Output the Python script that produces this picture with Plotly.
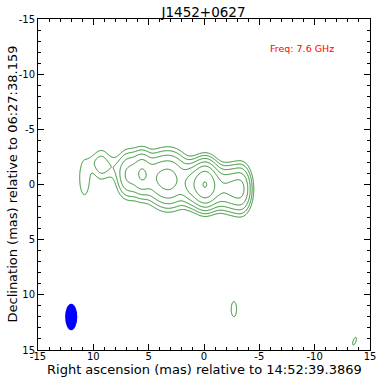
import numpy as np
import plotly.graph_objects as go

# Source model components: RA offset (mas), Dec offset (mas), peak, sigma_x, sigma_y (mas), correlation
comp_x = [-0.1, 1.1, -1.4, -2.6, -3.4, 3.2, 4.5, 5.6, 6.8, 9.3, 8.3, 10.8, 10.05, -2.7, -13.6]
comp_y = [0.0, 0.0, 0.3, 0.4, 0.4, -0.45, -0.7, -0.95, -0.9, -1.8, -1.6, -0.6, -2.0, 11.3, 14.2]
comp_peak = [62.0, 17.0, 13.0, 15.0, 14.0, 21.0, 6.0, 15.0, 9.0, 2.7, 1.3, 1.8, 0.7, 1.6, 1.6]
comp_sx = [0.6, 0.6, 0.64, 0.59, 0.47, 0.9, 0.6, 0.5, 0.6, 0.5, 0.5, 0.4, 0.35, 0.25, 0.18]
comp_sy = [1.0, 0.95, 0.95, 1.0, 1.05, 1.2, 1.05, 1.05, 1.1, 0.9, 0.7, 1.4, 0.5, 0.7, 0.36]
comp_rho = [0, 0, 0, 0, 0, 0, 0, 0, 0, 0, 0, 0, 0, 0, 0.6]

contour_levels = [1, 2, 4, 8, 16, 32, 64]

beam_x, beam_y = 12.0, 12.0
beam_w, beam_h = 1.1, 2.4

title = "J1452+0627"
freq_label = "Freq: 7.6 GHz"
x_title = "Right ascension (mas) relative to 14:52:39.3869"
y_title = "Declination (mas) relative to 06:27:38.159"
x_tickvals = [15, 10, 5, 0, -5, -10, -15]
x_ticktext = ["-15", "10", "5", "0", "-5", "-10", "15"]
y_tickvals = [-15, -10, -5, 0, 5, 10, 15]
y_ticktext = ["-15", "-10", "-5", "0", "5", "10", "15"]

xs = np.linspace(-15, 15, 451)
ys = np.linspace(-15, 15, 451)
X, Y = np.meshgrid(xs, ys)
img = np.zeros_like(X)
for cx, cy, p, sx, sy, r in zip(comp_x, comp_y, comp_peak, comp_sx, comp_sy, comp_rho):
    u = (X - cx) / sx
    v = (Y - cy) / sy
    img += p * np.exp(-(u ** 2 - 2 * r * u * v + v ** 2) / (2 * (1 - r ** 2)))
z = np.log2(img + 1e-6)
lv = np.log2(contour_levels)

green = "#2e8f2e"
fig = go.Figure()
fig.add_trace(go.Contour(
    x=xs, y=ys, z=z,
    contours=dict(start=lv[0], end=lv[-1], size=lv[1] - lv[0], coloring="lines"),
    colorscale=[[0, green], [1, green]],
    line=dict(width=1),
    showscale=False, hoverinfo="skip",
))
fig.add_shape(type="circle", xref="x", yref="y",
              x0=beam_x - beam_w / 2, x1=beam_x + beam_w / 2,
              y0=beam_y - beam_h / 2, y1=beam_y + beam_h / 2,
              fillcolor="blue", line=dict(color="blue", width=0))
fig.add_annotation(x=-8.9, y=-12.3, xref="x", yref="y", text=freq_label,
                   showarrow=False, font=dict(color="red", size=9.5, family="DejaVu Sans"))
fig.add_annotation(x=0.5, y=0, xref="paper", yref="paper", text=x_title,
                   showarrow=False, xanchor="center", yanchor="middle", yshift=-19,
                   font=dict(size=13, family="DejaVu Sans", color="black"))
fig.add_annotation(x=0, y=0.5, xref="paper", yref="paper", text=y_title, textangle=-90,
                   showarrow=False, xanchor="center", yanchor="middle", xshift=-26,
                   font=dict(size=13, family="DejaVu Sans", color="black"))

axis_common = dict(
    showgrid=False, zeroline=False, showline=True, linecolor="black", linewidth=1,
    mirror="ticks", ticks="inside", ticklen=6, tickcolor="black", automargin=False,
    minor=dict(ticks="inside", ticklen=3, dtick=1, tick0=-15, tickcolor="black"),
    tickfont=dict(size=10, family="DejaVu Sans", color="black"),
)
fig.update_xaxes(range=[15, -15], tickmode="array", tickvals=x_tickvals, ticktext=x_ticktext,
                 ticklabelstandoff=-3, **axis_common)
fig.update_yaxes(range=[15, -15], tickmode="array", tickvals=y_tickvals, ticktext=y_ticktext,
                 ticklabelstandoff=0, **axis_common)
fig.update_layout(
    width=382, height=382,
    margin=dict(l=38, r=12, t=19, b=32, autoexpand=False),
    plot_bgcolor="white", paper_bgcolor="white",
    title=dict(text=title, x=203.5 / 382, xanchor="center", y=1 - 12 / 382, yanchor="middle",
               font=dict(size=13.5, family="DejaVu Sans", color="black")),
    showlegend=False,
)
fig.write_html("out.html", config={"displayModeBar": False},
               post_script="document.body.style.margin='0';document.body.style.padding='0';")
